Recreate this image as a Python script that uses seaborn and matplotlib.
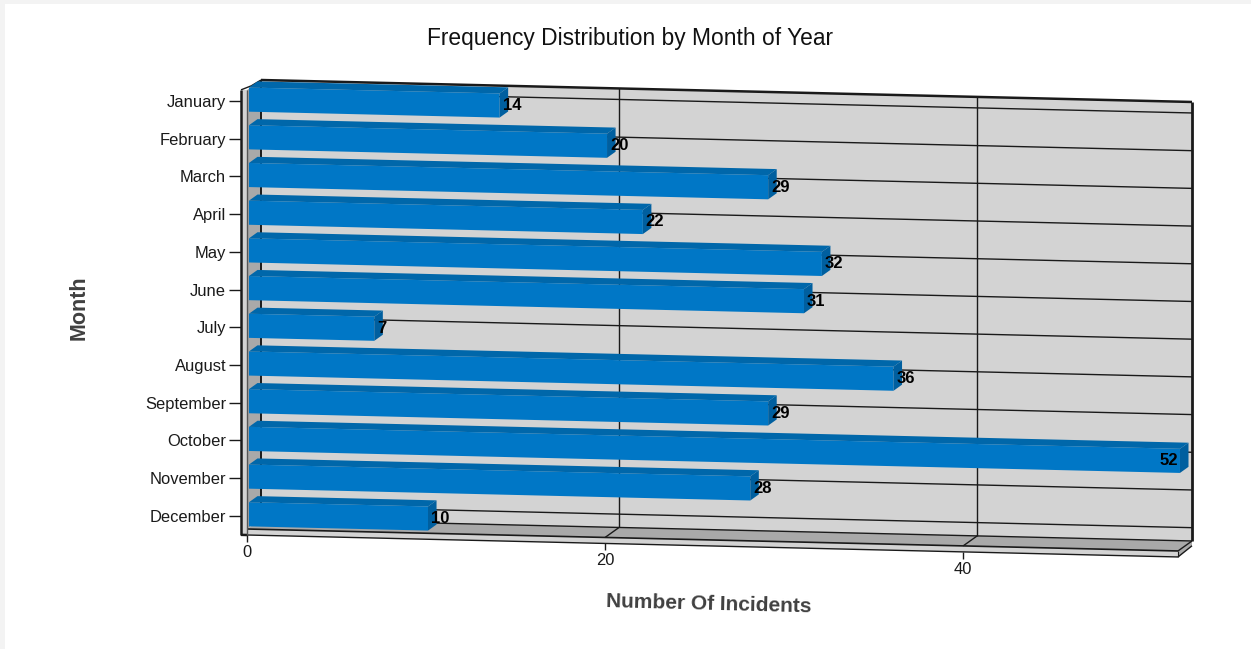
import numpy as np
import pandas as pd
import matplotlib
matplotlib.use("Agg")
import matplotlib.pyplot as plt
import seaborn as sns
from matplotlib.patches import Polygon, Rectangle
from matplotlib.transforms import Affine2D

# ===============================
# DATA
# ===============================
months = ["January", "February", "March", "April", "May", "June", "July",
          "August", "September", "October", "November", "December"]
incidents = [14, 20, 29, 22, 32, 31, 7, 36, 29, 52, 28, 10]
x_ticks = [0, 20, 40]

df = pd.DataFrame({"month": months, "incidents": incidents})

# ===============================
# STYLE
# ===============================
sns.set_theme(style="white")
plt.rcParams["font.family"] = ["Liberation Sans", "DejaVu Sans"]

W, H = 1251, 649
WALL = "#d3d3d3"
SIDE = "#a9a9a9"
FRONT = "#0077c6"
TOP = "#0067aa"
END = "#005f9f"
LINE = "#1a1a1a"

fig = plt.figure(figsize=(W / 100, H / 100), dpi=100)
fig.patches.append(Rectangle((0, 1 - 4 / H), 1, 4 / H, transform=fig.transFigure, color="#f3f3f3", lw=0))
fig.patches.append(Rectangle((0, 0), 5 / W, 1, transform=fig.transFigure, color="#f3f3f3", lw=0))

# front plane of the fake 3D box, in pixels
left, right, top, bottom = 247, 1178, 90, 529
ax = fig.add_axes([left / W, 1 - bottom / H, (right - left) / W, (bottom - top) / H])

x_max = 52
px_x = (right - left) / x_max
px_y = 37.7
ax.patch.set_visible(False)

# slope and depth of the box in data units
skew = 0.0236 * px_x / px_y
depth_x = 14 / px_x
depth_y = -10 / px_y
y_top = (top - 101) / px_y
y_bot = (bottom - 101) / px_y


def proj(x, y, d=0.0):
    return (x + d * depth_x, y + skew * x + d * depth_y)


def face(points, **kw):
    kw.setdefault("lw", 0)
    ax.add_patch(Polygon([proj(*p) for p in points], closed=True, clip_on=False, **kw))


def line(a, b, lw=1.0, color=LINE, zorder=1.2):
    pa, pb = proj(*a), proj(*b)
    ax.plot([pa[0], pb[0]], [pa[1], pb[1]], color=color, lw=lw, zorder=zorder,
            clip_on=False, solid_capstyle="butt")


# ===============================
# BOX: BACK WALL, SIDE WALL, FLOOR
# ===============================
rim_x = -6 / px_x
rim_y = 6 / px_y
face([(0, y_top, 1), (x_max, y_top, 1), (x_max, y_bot, 1), (0, y_bot, 1)], facecolor=WALL, zorder=1)
face([(0, y_top, 0), (0, y_top, 1), (0, y_bot, 1), (0, y_bot, 0)], facecolor=SIDE, zorder=1.05)
face([(0, y_bot, 0), (x_max, y_bot, 0), (x_max, y_bot, 1), (0, y_bot, 1)], facecolor=SIDE, zorder=1.05)

# light rim along the front
face([(rim_x, y_top), (0, y_top), (0, y_bot), (x_max, y_bot), (x_max, y_bot + rim_y),
      (0, y_bot + rim_y), (rim_x, y_bot + rim_y)], facecolor=WALL, zorder=1.1)
face([(x_max, y_bot, 0), (x_max, y_bot, 1), (x_max, y_bot + rim_y * 0.8, 1), (x_max, y_bot + rim_y, 0)],
     facecolor=SIDE, zorder=1.1)

# gridlines on the back wall
for i in range(len(months)):
    line((0, i, 1), (x_max, i, 1))
for t in x_ticks[1:]:
    line((t, y_top, 1), (t, y_bot, 1))
    line((t, y_bot, 0), (t, y_bot, 1))

# box outline
line((0, y_top, 1), (x_max, y_top, 1), lw=1.8)
line((x_max, y_top, 1), (x_max, y_bot, 1), lw=2.0)
line((0, y_top, 1), (0, y_bot, 1), lw=1.4)
line((0, y_bot, 1), (x_max, y_bot, 1))
line((0, y_bot, 0), (x_max, y_bot, 0), lw=1.2)
line((0, y_bot + rim_y, 0), (x_max, y_bot + rim_y, 0), lw=1.0)
line((x_max, y_bot, 0), (x_max, y_bot, 1), lw=1.0)
line((x_max, y_bot + rim_y, 0), (x_max, y_bot + rim_y * 0.8, 1), lw=1.0)
line((x_max, y_bot, 0), (x_max, y_bot + rim_y, 0), lw=0.8)
line((rim_x, y_top, 0), (rim_x, y_bot + rim_y, 0), lw=1.8)
line((rim_x, y_bot + rim_y, 0), (0, y_bot + rim_y, 0), lw=1.8)
line((rim_x, y_top, 0), (0, y_top - 0.03, 0.3), lw=1.0)
line((0, y_top - 0.03, 0.3), (0, y_top, 1), lw=1.0)
line((0, y_top, 0), (0, y_bot + rim_y, 0), lw=1.0, color="#555555")

# ===============================
# BARS
# ===============================
sns.barplot(data=df, y="month", x="incidents", orient="h", color=FRONT,
            saturation=1, width=0.64, linewidth=0, ax=ax)

bar_front = 0.14
bar_back = 0.75
front_tf = Affine2D(np.array([[1, 0, bar_front * depth_x],
                              [skew, 1, bar_front * depth_y],
                              [0, 0, 1]]))
for rect in [p for p in ax.patches if isinstance(p, Rectangle)]:
    x0, y0 = rect.get_x(), rect.get_y()
    w, h = rect.get_width(), rect.get_height()
    rect.set_transform(front_tf + ax.transData)
    rect.set_zorder(3)
    rect.set_clip_on(False)
    rect.set_edgecolor("none")
    # top face and end cap
    face([(x0, y0, bar_front), (x0 + w, y0, bar_front), (x0 + w, y0, bar_back), (x0, y0, bar_back)],
         facecolor=TOP, zorder=3)
    face([(x0 + w, y0, bar_front), (x0 + w, y0, bar_back), (x0 + w, y0 + h, bar_back), (x0 + w, y0 + h, bar_front)],
         facecolor=END, zorder=3)

# value labels
for i, v in enumerate(incidents):
    px, py = proj(v, i, bar_front)
    if v >= x_max:
        ax.text(px - 2 / px_x, py, str(v), ha="right", va="center", fontsize=12,
                fontweight="bold", color="black", zorder=5, clip_on=False)
    else:
        ax.text(px + 3 / px_x, py, str(v), ha="left", va="center", fontsize=12,
                fontweight="bold", color="black", zorder=5, clip_on=False)

# ===============================
# AXES
# ===============================
ax.set_xlim(0, x_max)
ax.set_ylim(y_bot, y_top)
sns.despine(ax=ax, left=True, bottom=True, top=True, right=True)
ax.set_xticks([])
ax.tick_params(axis="y", left=True, length=13, width=1.0, color=LINE, pad=2,
               labelsize=11.9, labelcolor="#1a1a1a")
for tick in ax.yaxis.get_major_ticks():
    tick.set_zorder(4)

# x ticks follow the slope of the floor
for t in x_ticks:
    line((t, y_bot + rim_y, 0), (t, y_bot + rim_y + 7 / px_y, 0), lw=1.0)
    px, py = proj(t, y_bot + rim_y + 10 / px_y, 0)
    ax.text(px, py, str(t), ha="center", va="top", fontsize=11.9, color="#1a1a1a", clip_on=False)

ax.set_ylabel("Month", fontsize=15.5, fontweight="bold", color="#404040")
ax.yaxis.set_label_coords((90 - left) / (right - left), (bottom - 308) / (bottom - top))
ax.set_xlabel("Number Of Incidents", fontsize=15, fontweight="bold", color="#404040",
              rotation=-1.5, rotation_mode="anchor", ha="center", va="center")
ax.xaxis.set_label_coords((709 - left) / (right - left), (bottom - 604) / (bottom - top))

fig.text(629.5 / W, 1 - 39 / H, "Frequency Distribution by Month of Year", ha="center", va="center",
         fontsize=16.4, color="#111111")

fig.savefig("out.png", dpi=100)
